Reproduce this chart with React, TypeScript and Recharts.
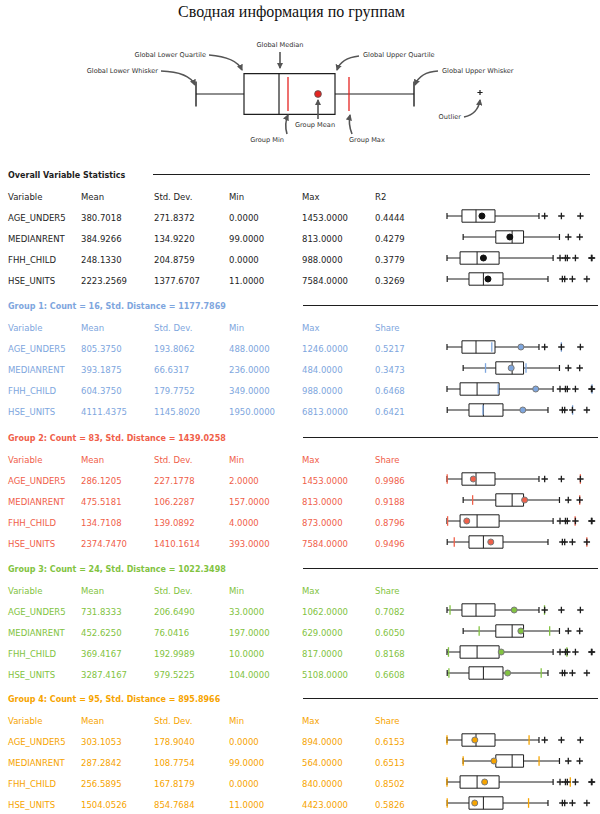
import React from "react";
import { ComposedChart, XAxis, YAxis, ReferenceArea, ReferenceLine, Scatter } from "recharts";

const variables = ["AGE_UNDER5", "MEDIANRENT", "FHH_CHILD", "HSE_UNITS"];

// overall statistics
const overallMean = [380.7018, 384.9266, 248.133, 2223.2569];
const overallStd = [271.8372, 134.922, 204.8759, 1377.6707];
const overallMin = [0, 99, 0, 11];
const overallMax = [1453, 813, 988, 7584];
const overallR2 = [0.4444, 0.4279, 0.3779, 0.3269];

// global box plot pieces
const lowerWhisker = [0, 99, 0, 11];
const lowerQuartile = [163, 299, 89, 1193];
const medianValue = [316, 399, 205, 1974];
const upperQuartile = [523, 469, 355, 3037];
const upperWhisker = [1002, 689, 723, 5477];
const outliers = [
  [1064, 1246, 1453],
  [743, 813],
  [770, 807, 820, 875, 984, 988],
  [6258, 6383, 6800, 7584],
];
const axisMax = [1634, 919, 1022, 8135];

// groups
const groupNames = ["Group 1", "Group 2", "Group 3", "Group 4"];
const groupCounts = [16, 83, 24, 95];
const groupDistance = [1177.7869, 1439.0258, 1022.3498, 895.8966];
const groupColors = ["#7ea6de", "#f0604a", "#82c341", "#f6a400"];
const groupMean = [
  [805.375, 393.1875, 604.375, 4111.4375],
  [286.1205, 475.5181, 134.7108, 2374.747],
  [731.8333, 452.625, 369.4167, 3287.4167],
  [303.1053, 287.2842, 256.5895, 1504.0526],
];
const groupStd = [
  [193.8062, 66.6317, 179.7752, 1145.802],
  [227.1778, 106.2287, 139.0892, 1410.1614],
  [206.649, 76.0416, 192.9989, 979.5225],
  [178.904, 108.7754, 167.8179, 854.7684],
];
const groupMin = [
  [488, 236, 349, 1950],
  [2, 157, 4, 393],
  [33, 197, 10, 104],
  [0, 99, 0, 11],
];
const groupMax = [
  [1246, 484, 988, 6813],
  [1453, 813, 873, 7584],
  [1062, 629, 817, 5108],
  [894, 564, 840, 4423],
];
const groupShare = [
  [0.5217, 0.3473, 0.6468, 0.6421],
  [0.9986, 0.9188, 0.8796, 0.9496],
  [0.7082, 0.605, 0.8168, 0.6608],
  [0.6153, 0.6513, 0.8502, 0.5826],
];

// legend sample values
const legendWhiskers = [10, 228];
const legendQuartiles = [58, 149];
const legendMedian = 93;
const legendOutlier = 294;
const legendGroupMin = 102;
const legendGroupMax = 163;
const legendGroupMean = 132;

const FONT = "'DejaVu Sans', Verdana, sans-serif";
const INK = "#1e1e1e";
const colX = [8, 81, 154, 229, 302, 375];
const sectionTop = [176, 307, 439, 570, 700];
const ROW = 21;

const plus = (size: number, w: number) => (p: any) =>
  <path d={`M${p.cx - size},${p.cy}h${size * 2}M${p.cx},${p.cy - size}v${size * 2}`} stroke={INK} strokeWidth={w} fill="none" />;

function BoxRow({ v, top, mean, meanFill, meanStroke, gMin, gMax, color }: any) {
  const y0 = 0;
  const seg = (a: number, b: number, c: number, d: number) => [{ x: a, y: c }, { x: b, y: d }];
  return (
    <div style={{ position: "absolute", left: 445.3, top }}>
      <ComposedChart width={156} height={24} margin={{ top: 0, right: 4, bottom: 0, left: 2 }}>
        <XAxis type="number" dataKey="x" domain={[0, axisMax[v]]} hide allowDataOverflow />
        <YAxis type="number" dataKey="y" domain={[-12, 12]} hide />
        <ReferenceLine segment={seg(lowerWhisker[v], lowerQuartile[v], y0, y0) as any} stroke={INK} strokeWidth={1} />
        <ReferenceLine segment={seg(upperQuartile[v], upperWhisker[v], y0, y0) as any} stroke={INK} strokeWidth={1} />
        <ReferenceLine segment={seg(lowerWhisker[v], lowerWhisker[v], -3, 3) as any} stroke={INK} strokeWidth={1.2} />
        <ReferenceLine segment={seg(upperWhisker[v], upperWhisker[v], -3, 3) as any} stroke={INK} strokeWidth={1.2} />
        <ReferenceArea x1={lowerQuartile[v]} x2={upperQuartile[v]} y1={-6.2} y2={6.2} fill="#fff" fillOpacity={1} stroke={INK} strokeWidth={1} />
        <ReferenceLine segment={seg(medianValue[v], medianValue[v], -6.2, 6.2) as any} stroke={INK} strokeWidth={1} />
        <Scatter data={outliers[v].map((x) => ({ x, y: 0 }))} isAnimationActive={false} shape={plus(3.2, 1.3)} />
        {gMin !== undefined && (
          <ReferenceLine segment={seg(gMin, gMin, -4.8, 4.8) as any} stroke={color} strokeWidth={1.3} />
        )}
        {gMax !== undefined && (
          <ReferenceLine segment={seg(gMax, gMax, -4.8, 4.8) as any} stroke={color} strokeWidth={1.3} />
        )}
        <Scatter
          data={[{ x: mean, y: 0 }]}
          isAnimationActive={false}
          shape={(p: any) => <circle cx={p.cx} cy={p.cy} r={3} fill={meanFill} stroke={meanStroke} strokeWidth={1} />}
        />
      </ComposedChart>
    </div>
  );
}

function Txt({ x, y, children, style }: any) {
  return (
    <div style={{ position: "absolute", left: x, top: y - 6, lineHeight: "12px", fontSize: 8.5, whiteSpace: "nowrap", ...style }}>
      {children}
    </div>
  );
}

function Section({ t, title, color, lastLabel, mean, std, min, max, last, gMin, gMax, meanFill, meanStroke, lineFrom, lineTo }: any) {
  const headers = ["Variable", "Mean", "Std. Dev.", "Min", "Max", lastLabel];
  return (
    <>
      <Txt x={8} y={t} style={{ fontWeight: "bold", fontSize: 8, color }}>{title}</Txt>
      <div style={{ position: "absolute", left: lineFrom, width: lineTo - lineFrom, top: t - 2, height: 1.3, background: INK }} />
      {headers.map((h, i) => (
        <Txt key={h} x={colX[i]} y={t + ROW} style={{ color }}>{h}</Txt>
      ))}
      {variables.map((name, v) => {
        const y = t + 2 * ROW + ROW * v;
        const cells = [name, mean[v].toFixed(4), std[v].toFixed(4), min[v].toFixed(4), max[v].toFixed(4), last[v].toFixed(4)];
        return (
          <React.Fragment key={name}>
            {cells.map((c, i) => (
              <Txt key={i} x={colX[i]} y={y} style={{ color }}>{c}</Txt>
            ))}
            <BoxRow
              v={v}
              top={y - 2.5 - 12}
              mean={mean[v]}
              meanFill={meanFill}
              meanStroke={meanStroke}
              gMin={gMin ? gMin[v] : undefined}
              gMax={gMax ? gMax[v] : undefined}
              color={color}
            />
          </React.Fragment>
        );
      })}
    </>
  );
}

const arrowPaths = [
  "M280,52 L280,68",
  "M209,55 Q236,57 242,70",
  "M161,71 Q189,72 195,85",
  "M359,56 Q341,58 337,70",
  "M438,71 Q420,72 415,85",
  "M464,117 Q478,114 480,100",
  "M318,119 L318,100",
  "M287,134 Q284,124 288,115",
  "M352,134 Q348,124 350,115",
];

const legendLabels = [
  { text: "Global Median", x: 280, y: 45, anchor: "middle" },
  { text: "Global Lower Quartile", x: 206, y: 55, anchor: "end" },
  { text: "Global Lower Whisker", x: 158, y: 71, anchor: "end" },
  { text: "Global Upper Quartile", x: 363, y: 55, anchor: "start" },
  { text: "Global Upper Whisker", x: 442, y: 71, anchor: "start" },
  { text: "Outlier", x: 461, y: 117, anchor: "end" },
  { text: "Group Mean", x: 315, y: 125, anchor: "middle" },
  { text: "Group Min", x: 284, y: 140, anchor: "end" },
  { text: "Group Max", x: 349, y: 140, anchor: "start" },
];

function LegendKey() {
  const s = (a: number, b: number, c: number, d: number) => [{ x: a, y: c }, { x: b, y: d }] as any;
  return (
    <>
      <div style={{ position: "absolute", left: 186, top: 63.5 }}>
        <ComposedChart width={300} height={60} margin={{ top: 0, right: 0, bottom: 0, left: 0 }}>
          <XAxis type="number" dataKey="x" domain={[0, 300]} hide />
          <YAxis type="number" dataKey="y" domain={[-30, 30]} hide />
          <ReferenceLine segment={s(legendWhiskers[0], legendQuartiles[0], 0, 0)} stroke={INK} strokeWidth={1.2} />
          <ReferenceLine segment={s(legendQuartiles[1], legendWhiskers[1], 0, 0)} stroke={INK} strokeWidth={1.2} />
          <ReferenceLine segment={s(legendWhiskers[0], legendWhiskers[0], -12.5, 12.5)} stroke={INK} strokeWidth={1.4} />
          <ReferenceLine segment={s(legendWhiskers[1], legendWhiskers[1], -12.5, 12.5)} stroke={INK} strokeWidth={1.4} />
          <ReferenceArea x1={legendQuartiles[0]} x2={legendQuartiles[1]} y1={-20.3} y2={20.3} fill="#fff" fillOpacity={1} stroke={INK} strokeWidth={1.2} />
          <ReferenceLine segment={s(legendMedian, legendMedian, -20.3, 20.3)} stroke={INK} strokeWidth={1.2} />
          <ReferenceLine segment={s(legendGroupMin, legendGroupMin, -17, 17)} stroke="#e52421" strokeWidth={1.3} />
          <ReferenceLine segment={s(legendGroupMax, legendGroupMax, -17, 17)} stroke="#e52421" strokeWidth={1.3} />
          <Scatter data={[{ x: legendOutlier, y: 1.5 }]} isAnimationActive={false} shape={plus(2.6, 1.2)} />
          <Scatter
            data={[{ x: legendGroupMean, y: 0 }]}
            isAnimationActive={false}
            shape={(p: any) => <circle cx={p.cx} cy={p.cy} r={3.4} fill="#e52421" stroke="#555" strokeWidth={0.8} />}
          />
        </ComposedChart>
      </div>
      <svg width={600} height={150} style={{ position: "absolute", left: 0, top: 0, pointerEvents: "none" }}>
        <defs>
          <marker id="ah" viewBox="0 0 6 6" refX="5" refY="3" markerWidth="4" markerHeight="4" orient="auto">
            <path d="M0,0 L6,3 L0,6 z" fill="#555" />
          </marker>
        </defs>
        {arrowPaths.map((d, i) => (
          <path key={i} d={d} stroke="#555" strokeWidth={1.6} fill="none" markerEnd="url(#ah)" />
        ))}
        {legendLabels.map((l) => (
          <text key={l.text} x={l.x} y={l.y} dy="0.35em" textAnchor={l.anchor as any} fontSize={6.6} fontFamily={FONT} fill="#333">
            {l.text}
          </text>
        ))}
      </svg>
    </>
  );
}

export default function App() {
  return (
    <div style={{ position: "absolute", left: 0, top: 0, width: 600, height: 814, background: "#fff", fontFamily: FONT, color: INK, overflow: "hidden" }}>
      <div style={{ position: "absolute", left: 0, width: 583, top: 2, textAlign: "center", fontFamily: "'Liberation Serif', serif", fontSize: 16, lineHeight: "20px", color: "#111" }}>
        Сводная информация по группам
      </div>
      <LegendKey />
      <Section
        t={sectionTop[0]}
        title="Overall Variable Statistics"
        color={INK}
        lastLabel="R2"
        mean={overallMean}
        std={overallStd}
        min={overallMin}
        max={overallMax}
        last={overallR2}
        meanFill="#111"
        meanStroke="#111"
        lineFrom={153}
        lineTo={590}
      />
      {groupNames.map((g, i) => (
        <Section
          key={g}
          t={sectionTop[i + 1]}
          title={`${g}: Count = ${groupCounts[i]}, Std. Distance = ${groupDistance[i].toFixed(4)}`}
          color={groupColors[i]}
          lastLabel="Share"
          mean={groupMean[i]}
          std={groupStd[i]}
          min={groupMin[i]}
          max={groupMax[i]}
          last={groupShare[i]}
          gMin={groupMin[i]}
          gMax={groupMax[i]}
          meanFill={groupColors[i]}
          meanStroke="#7a7a7a"
          lineFrom={303}
          lineTo={598}
        />
      ))}
    </div>
  );
}
